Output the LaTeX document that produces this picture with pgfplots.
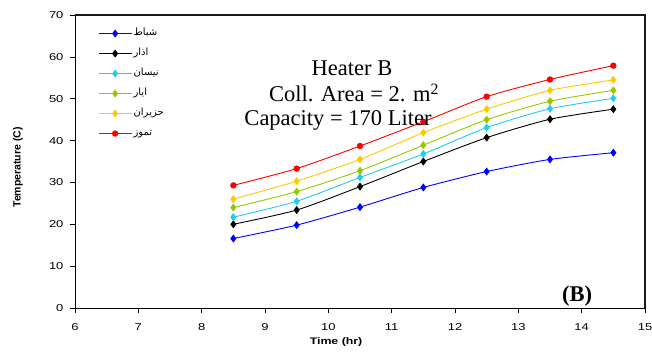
\documentclass[border=0pt]{standalone}
\usepackage{fontspec}
\setmainfont{Liberation Sans}
\newfontfamily\widesans[FakeStretch=1.3]{Liberation Sans}
\newfontfamily\timesfont{Liberation Serif}
\newfontfamily\arabicfont[Script=Arabic]{DejaVu Sans}
\usepackage{pgfplots}
\pgfplotsset{compat=1.18}
\definecolor{cblue}{RGB}{0,0,255}
\definecolor{ccyan}{RGB}{30,205,240}
\definecolor{cgreen}{RGB}{150,200,0}
\definecolor{cyellow}{RGB}{255,200,0}
\definecolor{cred}{RGB}{255,0,0}
\definecolor{cframe}{RGB}{25,25,25}
\pgfplotstableread{
x feb mar apr may jun jul
8.5 16.6 20.0 21.7 24.0 26.0 29.3
9.5 19.8 23.4 25.5 27.8 30.3 33.3
10.5 24.1 29.0 31.2 32.8 35.5 38.7
11.5 28.8 35.0 36.8 38.9 41.9 44.5
12.5 32.6 40.7 43.1 45.0 47.5 50.5
13.5 35.5 45.1 47.6 49.4 52.0 54.6
14.5 37.1 47.5 50.1 52.0 54.5 57.9
}\datatable
\begin{document}
\begin{tikzpicture}[x=1pt,y=1pt]
\useasboundingbox (0,0) rectangle (652,356);
\begin{axis}[
  name=main,
  at={(75pt,48pt)}, anchor=south west,
  scale only axis, width=570pt, height=293pt,
  xmin=6, xmax=15, ymin=0, ymax=70,
  xtick={6,...,15}, ytick={0,10,...,70},
  tick align=outside, xtick pos=bottom, ytick pos=left,
  major tick length=5pt,
  tick style={black, line width=0.6pt},
  axis line style={black, line width=0.8pt},
  /pgf/number format/assume math mode=true,
  ticklabel style={font=\widesans\fontsize{10}{12}\selectfont},
  xticklabel style={yshift=-7pt},
  yticklabel style={xshift=-3pt},
  xlabel={\widesans\bfseries\fontsize{9.5}{11}\selectfont Time (hr)},
  every axis x label/.style={at={(rel axis cs:0.458,0)}, yshift=-34.5pt, anchor=center},
  ylabel={\bfseries\fontsize{10.5}{12}\selectfont Temperature (C)},
  every axis y label/.style={at={(rel axis cs:0,0.48)}, xshift=-57pt, rotate=90, anchor=center},
  legend style={draw=none, fill=none, at={(rel axis cs:0.036,0.975)}, anchor=north west,
    font=\arabicfont\fontsize{10}{12}\selectfont,
    nodes={inner sep=2pt, text height=9pt, text depth=5pt}, row sep=2pt},
  legend cell align=left,
  legend image code/.code={\draw[mark repeat=2,mark phase=2] plot coordinates {(0pt,0pt)(16pt,0pt)(32pt,0pt)};},
  every axis plot/.append style={line width=0.9pt, smooth, tension=0.4},
]
\addplot[cblue, mark=diamond*, mark size=3.3pt, mark options={solid}] table[x=x,y=feb]{\datatable};
\addlegendentry{شباط}
\addplot[black, mark=diamond*, mark size=3.3pt] table[x=x,y=mar]{\datatable};
\addlegendentry{اذار}
\addplot[ccyan, mark=diamond*, mark size=3.3pt] table[x=x,y=apr]{\datatable};
\addlegendentry{نيسان}
\addplot[cgreen, mark=diamond*, mark size=3.3pt] table[x=x,y=may]{\datatable};
\addlegendentry{ايار}
\addplot[cyellow, mark=diamond*, mark size=3.3pt] table[x=x,y=jun]{\datatable};
\addlegendentry{حزيران}
\addplot[cred, mark=*, mark size=2.7pt] table[x=x,y=jul]{\datatable};
\addlegendentry{تموز}
\end{axis}
\draw[cframe, line width=1.6pt] (main.north west) -- (main.north east) -- (main.south east);
\node[font=\timesfont\fontsize{22.5}{26}\selectfont] at (352,288) {Heater B};
\node[font=\timesfont\fontsize{22.5}{26}\selectfont] at (354,263) {Coll. Area = 2. m\textsuperscript{2}};
\node[font=\timesfont\fontsize{22.5}{26}\selectfont] at (338,236) {Capacity = 170 Liter};
\node[font=\timesfont\bfseries\fontsize{22.5}{26}\selectfont] at (577,60) {(B)};
\end{tikzpicture}
\end{document}
